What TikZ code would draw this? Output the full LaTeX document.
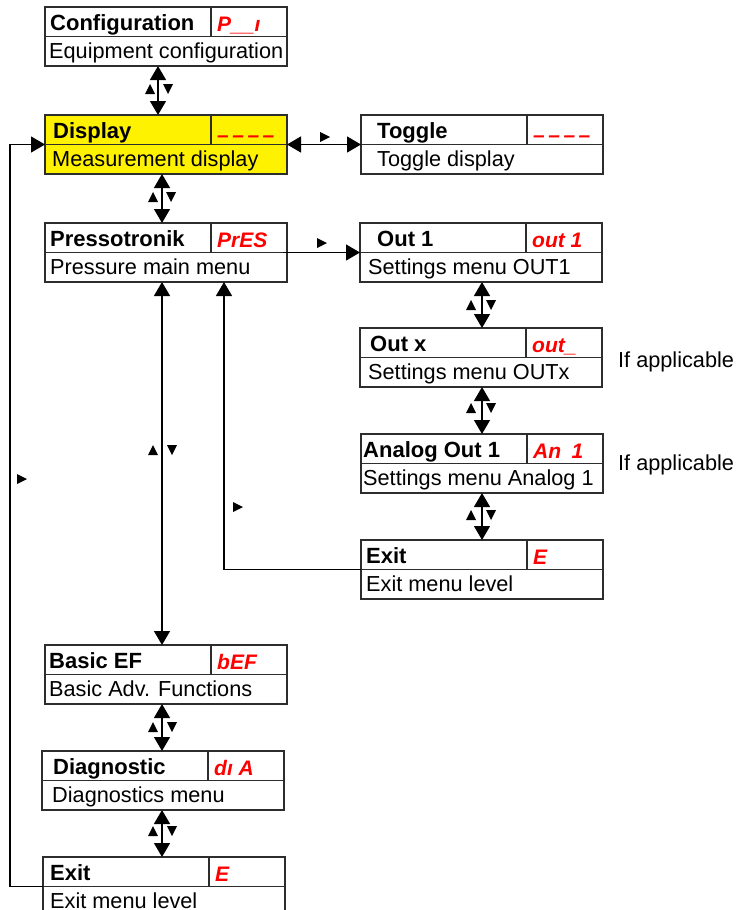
\documentclass[tikz,border=0pt]{standalone}
\usepackage{fontspec}
\setmainfont{Liberation Sans}
\usetikzlibrary{arrows.meta}
\definecolor{boxyellow}{RGB}{255,242,0}
\definecolor{segred}{RGB}{255,0,0}
\definecolor{linegray}{RGB}{45,45,45}
\tikzset{
  mbox/.style={draw=linegray, line width=1.3pt, minimum width=242pt, minimum height=59pt, anchor=north west, inner sep=0pt, outer sep=0pt},
  divline/.style={draw=linegray, line width=1.3pt},
  ttl/.style={anchor=base west, font=\fontsize{22}{24}\selectfont\bfseries, inner sep=0pt},
  dsc/.style={anchor=base west, font=\fontsize{21.7}{24}\selectfont, inner sep=0pt},
  cde/.style={anchor=base west, font=\fontsize{21}{22}\selectfont\bfseries\itshape, text=segred, inner sep=0pt},
  note/.style={anchor=base west, font=\fontsize{21.7}{24}\selectfont, inner sep=0pt},
  conn/.style={draw=black, line width=1.3pt},
  dbl/.style={conn, {Triangle[width=16pt,length=14pt]}-{Triangle[width=16pt,length=14pt]}},
  sgl/.style={conn, -{Triangle[width=16pt,length=14pt]}},
}
\newcommand\menubox[9]{%
  \node[mbox, fill=#9] (#1) at (#2,#3) {};
  \draw[divline] ([yshift=-29.5pt]#1.north west) -- ([yshift=-29.5pt]#1.north east);
  \draw[divline] ([xshift=-76pt]#1.north east) -- ([xshift=-76pt,yshift=-29.5pt]#1.north east);
  \node[ttl] (#1-t) at ([xshift=#4pt,yshift=-23pt]#1.north west) {#5};
  \node[cde] (#1-c) at ([xshift=-70pt,yshift=-24pt]#1.north east) {#6};
  \node[dsc] (#1-d) at ([xshift=#7pt,yshift=-51pt]#1.north west) {#8};
}
\newcommand\myupmark[2]{\fill (#1,#2) ++(-5,5) -- ++(10,0) -- ++(-5,-10) -- cycle;}
\newcommand\mydownmark[2]{\fill (#1,#2) ++(-5,-5) -- ++(10,0) -- ++(-5,10) -- cycle;}
\newcommand\myrightmark[2]{\fill (#1,#2) ++(-5,-5) -- ++(0,10) -- ++(10,-5) -- cycle;}
\newcommand\dashcode{\raisebox{-3pt}{–\,–\,–\,–}}
\begin{document}
\begin{tikzpicture}[x=1pt,y=-1pt]
\useasboundingbox (0,0) rectangle (748,910);
\menubox{c}{45}{7}{5}{Configuration}{P\_\_ı}{4}{Equipment configuration}{white}
\menubox{d}{45}{115}{8}{Display}{\dashcode}{7}{Measurement display}{boxyellow}
\menubox{t}{361}{115}{16}{Toggle}{\dashcode}{16}{Toggle display}{white}
\menubox{p}{45}{223}{5}{Pressotronik}{PrES}{5}{Pressure main menu}{white}
\menubox{o1}{360}{223}{17}{Out 1}{out 1}{8}{Settings menu OUT1}{white}
\menubox{ox}{360}{328}{10}{Out x}{out\_}{8}{Settings menu OUTx}{white}
\menubox{a1}{361}{434}{2}{Analog Out 1}{An\enspace 1}{2}{Settings menu Analog 1}{white}
\menubox{e1}{361}{540}{5}{Exit}{E}{5}{Exit menu level}{white}
\menubox{b}{45}{645}{4}{Basic EF}{bEF}{4}{Basic Adv. Functions}{white}
\menubox{dg}{42}{751}{11}{Diagnostic}{dı A}{10}{Diagnostics menu}{white}
\menubox{e2}{43}{857}{7}{Exit}{E}{7}{Exit menu level}{white}
\node[note] (n1) at (618,367) {If applicable};
\node[note] (n2) at (618,470) {If applicable};
% connectors
\draw[dbl] (c.south -| 158,0) -- (d.north -| 158,0);
\draw[dbl] (d.south -| 162,0) -- (p.north -| 162,0);
\draw[dbl] (d.east) -- (t.west);
\draw[sgl] ([xshift=-4pt]p.east) -- (o1.west);
\draw[dbl] (o1.south -| 482,0) -- (ox.north -| 482,0);
\draw[dbl] (ox.south -| 482,0) -- (a1.north -| 482,0);
\draw[dbl] (a1.south -| 482,0) -- (e1.north -| 482,0);
\draw[dbl] (p.south -| 162,0) -- (b.north -| 162,0);
\draw[sgl] (e1.west) -| (p.south -| 224,0);
\draw[dbl] (b.south -| 162,0) -- (dg.north -| 162,0);
\draw[dbl] (dg.south -| 162,0) -- (e2.north -| 162,0);
\draw[sgl] (e2.west) -- ++(-33,0) |- (d.west);
% small direction marks
\myupmark{150}{89}\mydownmark{168}{89}
\myupmark{153}{197}\mydownmark{171}{197}
\myupmark{471}{305}\mydownmark{491}{305}
\myupmark{471}{408}\mydownmark{491}{408}
\myupmark{471}{515}\mydownmark{491}{515}
\myupmark{153}{450}\mydownmark{172}{450}
\myupmark{153}{727}\mydownmark{172}{727}
\myupmark{153}{831}\mydownmark{172}{831}
\myrightmark{325}{137}
\myrightmark{322}{243}
\myrightmark{238}{507}
\myrightmark{22}{479}
\end{tikzpicture}
\end{document}
